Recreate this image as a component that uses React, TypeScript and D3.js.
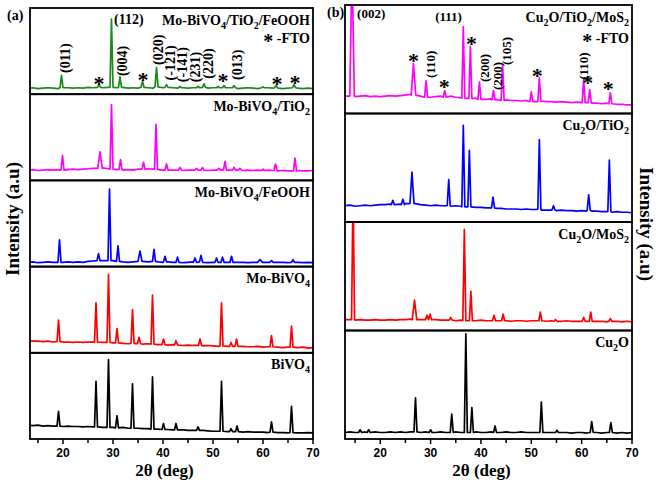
import * as d3 from 'd3';

// baseline samples at 13, 14, ... 70 deg (percent of sub-panel height)
const degGrid = d3.range(13, 71);

// ---------- panel (a) ----------
const feoohTiBase = [7, 7.5, 6.5, 7, 7.5, 7, 6.5, 7, 7.5, 7, 7.5, 7, 8, 7.5, 7, 7.5, 8, 7.5, 7.5, 8, 7, 7.5, 7, 8, 7.5, 7, 8, 7.5, 7, 7.5, 7, 7.5, 7, 7.5, 7, 7.5, 7, 7.5, 7, 7, 7.5, 7, 6.5, 7, 7.5, 7, 6.5, 7, 7.5, 7, 7, 6.5, 7, 7.5, 7, 6.5, 7, 6.5];
// [2theta, top, foot, halfWidth?]
const feoohTiPeaks = [[19.7, 22, 7.5], [27.2, 11.5, 8], [29.7, 87, 8], [31.4, 20, 8], [35.9, 15, 8], [38.7, 31, 8.5], [40.7, 11, 8], [43.4, 9, 7.5], [47, 9, 7.5], [48.2, 12, 8], [51, 9, 7.5], [52.2, 10, 7.5], [54.2, 10, 7.5], [60, 8.5, 7.5], [62.6, 10, 7.5], [66.2, 11, 7.5]];

const tiBase = [12, 12.5, 11.5, 12, 12.5, 12, 12.5, 12, 12.5, 13, 12.5, 13, 13.5, 14, 14, 14.5, 13.5, 13, 12.5, 12, 12.5, 12, 13, 13, 13.5, 13, 12.5, 12, 12.5, 12, 12, 11.5, 12, 12, 12.5, 12, 11.5, 12, 12, 12.5, 12, 12, 12, 11.5, 12, 11.5, 12, 11.5, 12, 11.5, 11, 11.5, 11, 11, 11.5, 11, 11, 11.5];
const tiPeaks = [[19.9, 29, 12], [27.4, 33, 14, 0.45], [29.7, 88, 13], [31.5, 24, 12.5], [36.1, 21, 13], [38.6, 65, 13], [40.7, 19, 12], [43.4, 15, 12], [46.7, 14, 12], [47.9, 15, 12], [51.2, 14, 12], [52.4, 22, 12], [54.2, 15, 12], [55.4, 14, 12], [60, 13, 11.5], [62.5, 19, 11.5], [66.4, 26, 11]];

const feoohBase = [5, 5.5, 4.5, 5, 5.5, 5, 4.5, 5, 5.5, 5, 5.5, 5, 6, 6.5, 7, 7, 7.5, 7, 6, 5.5, 5, 5.5, 6, 6, 5.5, 6, 5.5, 5, 5.5, 5, 5, 4.5, 5, 5.5, 5, 5, 4.5, 5, 5.5, 5, 5, 4.5, 5, 5, 4.5, 5, 5.5, 5, 5, 4.5, 5, 5, 4.5, 5, 5, 4.5, 5, 4.5];
const feoohPeaks = [[19.3, 31, 5], [27.1, 15, 7], [29.3, 90, 7], [31, 24, 6], [35.4, 18, 6, 0.4], [38.2, 20, 6], [40.4, 12, 5.5], [42.9, 11, 5], [46.4, 10, 5], [47.6, 13, 5.5], [50.7, 10, 5], [51.9, 11, 5], [53.7, 12, 5], [59.4, 8, 5, 0.5], [61.7, 7, 5], [66, 8, 5]];

const moBase = [14, 13.5, 13.5, 13, 13.5, 12.5, 13, 12.5, 12.5, 12, 12.5, 12, 12.5, 12.5, 12.5, 12, 11.5, 11.5, 11, 11, 10.5, 11, 10.5, 10, 10.5, 10, 9.5, 9.5, 9, 9.5, 9, 8.5, 9, 8.5, 8.5, 8, 8.5, 8, 7.5, 8, 7.5, 7.5, 7, 7.5, 7, 7, 7.5, 6.5, 7, 6.5, 6.5, 6, 6.5, 6, 6, 6.5, 5.5, 6];
const moPeaks = [[19.1, 38, 13], [26.6, 58, 12], [29.1, 91, 12], [30.8, 28, 11.5], [33.9, 50, 11], [35.2, 18, 10.5], [37.9, 67, 10], [40.1, 16, 9.5], [42.6, 14, 9], [47.4, 16, 8.5], [51.7, 58, 8], [53.6, 12, 7.5], [54.7, 16, 7.5], [61.7, 20, 7], [65.7, 31, 6.5]];

const bivBase = [16, 15.5, 16, 15, 15.5, 15, 15, 14.5, 15, 14.5, 14.5, 14, 14.5, 14, 14, 13.5, 14, 13.5, 13, 13.5, 12.5, 13, 12.5, 12, 12, 11.5, 11.5, 11, 11, 10.5, 10.5, 10.5, 10, 10, 9.5, 10, 9.5, 9, 9, 9, 8.5, 8.5, 8.5, 8, 8.5, 8, 8, 8, 7.5, 8, 7.5, 7.5, 7, 7.5, 7, 7, 7.5, 7];
const bivPeaks = [[19.1, 32, 15], [26.6, 67, 14], [29.1, 92, 13.5], [30.8, 27, 13], [33.9, 64, 12.5], [37.9, 72, 11.5], [40.1, 18, 11], [42.6, 18, 10.5], [47, 14, 10], [51.7, 67, 9], [53.6, 12, 8.5], [54.8, 15, 8.5], [61.7, 20, 8], [65.7, 38, 7.5]];

// hkl labels of top trace: [text, 2theta, value, rotated]
const hklA: [string, number, number, boolean][] = [
  ['(011)', 20.5, 24.6, true], ['(112)', 30.2, 82, false], ['(004)', 31.8, 21, true],
  ['(020)', 39.0, 34, true], ['(-121)', 41.4, 16, true], ['(-141)', 43.8, 14, true],
  ['(231)', 46.4, 14, true], ['(220)', 49, 18, true], ['(013)', 54.8, 16.5, true],
];
const starsA = [[27.2, 16.5], [36, 21], [52, 19], [62.8, 16.5], [66.4, 17.6]];

// ---------- panel (b) ----------
const cuTiMoBase = [16, 16.5, 15.5, 16, 16.5, 15.5, 16, 15.5, 16, 16.5, 16, 16.5, 17, 17.5, 17, 16, 15.5, 15, 15.5, 16, 16.5, 16, 15, 14.5, 14, 14.5, 14, 13.5, 13, 13.5, 13, 12.5, 12.5, 12, 12, 11.5, 12, 11.5, 11, 11.5, 11, 11, 10.5, 11, 10.5, 10, 10.5, 10, 10, 9.5, 9.5, 9, 9.5, 9, 8.5, 8.5, 8, 8];
const cuTiMoPeaks = [[14.4, 140, 16, 0.45], [26.6, 46, 17, 0.45], [29.1, 30, 15], [32.8, 21, 15], [36.5, 80, 14], [37.9, 62, 14], [39.7, 29, 13], [42.5, 21, 12.5], [44.3, 45, 12], [50, 20, 11], [51.6, 33, 11], [60.4, 31, 10], [61.6, 22, 10], [65.7, 19, 9]];

const cuTiBase = [15, 15.5, 14.5, 15, 15.5, 15, 15.5, 16, 16, 16.5, 16, 16.5, 17, 17.5, 17, 16, 15.5, 15, 15.5, 15, 15, 14.5, 15, 14.5, 14, 14, 13.5, 13.5, 13, 13, 12.5, 12.5, 12, 12, 12, 11.5, 12, 11.5, 11.5, 11, 11, 11, 10.5, 11, 10.5, 10.5, 10, 10.5, 10, 10, 10, 9.5, 9.5, 9, 9.5, 9, 9, 8.5];
const cuTiPeaks = [[22.5, 20, 16], [24.5, 21, 16], [26.3, 46, 17, 0.4], [33.6, 39, 15], [36.5, 89, 14], [37.7, 66, 14], [42.4, 23, 13], [51.6, 76, 12], [54.4, 15, 11], [61.4, 25, 11], [65.5, 57, 10]];

const cuMoBase = [10, 10, 9.5, 10, 9.5, 9.5, 10, 9.5, 9.5, 10, 9.5, 10, 10, 10.5, 10, 10, 10, 10, 10, 9.5, 9.5, 9.5, 9, 9.5, 9, 9, 9, 9.5, 9, 9, 9, 9, 9, 8.5, 9, 9, 8.5, 9, 9, 9, 8.5, 9, 8.5, 8.5, 9, 8.5, 8.5, 8.5, 8.5, 8.5, 8.5, 8.5, 8, 8.5, 8.5, 8, 8.5, 8];
const cuMoPeaks = [[14.6, 130, 10], [26.8, 28, 10, 0.45], [29.3, 14, 10], [29.9, 15, 10], [34, 12, 9.5], [36.7, 93, 9], [38, 36, 9], [42.6, 14, 9], [44.4, 15, 9], [51.8, 17, 9], [54.8, 10, 8.5], [60.4, 12, 8.5], [61.8, 17, 8.5], [65.7, 11, 8.5]];

const cuBase = [6, 6.5, 6, 6, 6.5, 6, 6.5, 6, 6, 6.5, 6, 6.5, 6, 6.5, 6.5, 6, 6.5, 6, 6, 6.5, 6, 6, 6.5, 6, 6, 6, 6.5, 6, 6, 6.5, 6, 6, 6.5, 6, 6, 6.5, 6, 6, 6, 6.5, 6, 6, 6.5, 6, 6, 5.5, 6, 6, 5.5, 6, 6, 5.5, 6, 6, 5.5, 6, 5.5, 6];
const cuPeaks = [[16, 8.5, 6], [17.7, 8.5, 6], [27, 38, 6.5], [30, 8.5, 6], [34.2, 23, 6], [37, 97, 6], [38.2, 29, 6], [42.8, 12, 6], [52, 34, 6], [55.1, 8, 6], [62, 16, 6], [65.8, 15, 6]];

const hklB: [string, number, number, boolean][] = [
  ['(002)', 15.4, 88, false], ['(111)', 30.9, 85, false], ['(110)', 29.9, 32.7, true],
  ['(200)', 40.6, 29, true], ['(200)', 43.2, 21.7, true], ['(105)', 45, 44.7, true],
  ['(110)', 60.3, 31, true],
];
const starsB = [[26.6, 52], [32.7, 28], [38.1, 67], [51.2, 38], [61.2, 31], [65.3, 26]];

const majorTicks = [20, 30, 40, 50, 60, 70];
const minorTicks = [15, 25, 35, 45, 55, 65];

const HW = 0.3;
const SERIF = '"Liberation Serif", "Times New Roman", serif';
const SANS = '"Liberation Sans", Arial, sans-serif';

function buildPattern(base: number[], peaks: number[][]) {
  const pts: number[][] = [];
  degGrid.forEach((d, i) => {
    if (!peaks.some((p) => Math.abs(d - p[0]) <= (p[3] ?? HW) + 0.05)) pts.push([d, base[i]]);
  });
  peaks.forEach(([pos, top, foot, hw = HW]) => {
    pts.push([pos - hw, foot], [pos, top], [pos + hw, foot]);
  });
  return pts.sort((a, b) => a[0] - b[0]);
}

function SubText({ s, sub }: { s: string; sub: number }) {
  const parts = s.split(/_(\d)/);
  return (
    <>
      {parts.map((p, i) =>
        i % 2 ? (
          <tspan key={i} fontSize={sub} dy={4}>{p}</tspan>
        ) : (
          <tspan key={i} dy={i ? -4 : 0}>{p}</tspan>
        )
      )}
    </>
  );
}

interface Series { label: string; color: string; base: number[]; peaks: number[][] }

interface PanelProps {
  id: string;
  left: number; right: number; top: number; bottom: number;
  domain: [number, number];
  series: Series[];
  hkl: [string, number, number, boolean][];
  stars: number[][];
  tag: string; tagX: number;
  hklSize: number;
  ftoY: number;
}

const Panel = ({ id, left, right, top, bottom, domain, series, hkl, stars, tag, tagX, hklSize, ftoY }: PanelProps) => {
  const x = d3.scaleLinear().domain(domain).range([left, right]);
  const bands = d3.scaleBand<number>().domain(d3.range(series.length)).range([top, bottom]);
  const h = bands.bandwidth();
  const ys = series.map((_, i) => d3.scaleLinear().domain([0, 100]).range([bands(i)! + h, bands(i)!]));
  const line = (y: d3.ScaleLinear<number, number>) =>
    d3.line<number[]>().x((d) => x(d[0])).y((d) => y(d[1]));
  const y0 = ys[0];

  return (
    <g>
      <defs>
        {series.map((_, i) => (
          <clipPath key={i} id={`${id}-clip-${i}`}>
            <rect x={left} y={bands(i)} width={right - left} height={h} />
          </clipPath>
        ))}
      </defs>
      {series.map((s, i) => (
        <g key={i}>
          <path
            d={line(ys[i])(buildPattern(s.base, s.peaks)) || ''}
            fill="none"
            stroke={s.color}
            strokeWidth={1.7}
            strokeLinejoin="round"
            clipPath={`url(#${id}-clip-${i})`}
          />
          <text
            x={right - 3}
            y={bands(i)! + 16.5}
            textAnchor="end"
            fontFamily={SERIF}
            fontWeight="bold"
            fontSize={14}
          >
            <SubText s={s.label} sub={10} />
          </text>
          <rect x={left} y={bands(i)} width={right - left} height={h} fill="none" stroke="#000" strokeWidth={1.8} />
        </g>
      ))}
      {/* FTO legend */}
      <text x={right - 3} y={top + ftoY} textAnchor="end" fontFamily={SERIF} fontWeight="bold" fontSize={14}>
        <tspan fontSize={20} dy={5}>*</tspan>
        <tspan dy={-5}> -FTO</tspan>
      </text>
      {hkl.map(([t, d, v, rot], i) =>
        rot ? (
          <text
            key={i}
            transform={`translate(${x(d)},${y0(v)}) rotate(-90)`}
            dy="0.35em"
            fontFamily={SERIF}
            fontWeight="bold"
            fontSize={hklSize}
          >
            {t}
          </text>
        ) : (
          <text key={i} x={x(d)} y={y0(v)} fontFamily={SERIF} fontWeight="bold" fontSize={hklSize}>
            {t}
          </text>
        )
      )}
      {stars.map(([d, v], i) => (
        <text key={i} x={x(d)} y={y0(v)} dy="0.48em" textAnchor="middle" fontFamily={SERIF} fontWeight="bold" fontSize={22}>
          *
        </text>
      ))}
      {/* x axis */}
      {majorTicks.map((t) => (
        <g key={t}>
          <line x1={x(t)} x2={x(t)} y1={bottom} y2={bottom + 5} stroke="#000" strokeWidth={1.5} />
          <text x={x(t)} y={bottom + 18} textAnchor="middle" fontFamily={SANS} fontWeight="bold" fontSize={12}>
            {t}
          </text>
        </g>
      ))}
      {minorTicks.map((t) => (
        <line key={t} x1={x(t)} x2={x(t)} y1={bottom} y2={bottom + 4} stroke="#000" strokeWidth={1.5} />
      ))}
      <text x={(left + right) / 2 - 7} y={bottom + 37} textAnchor="middle" fontFamily={SERIF} fontWeight="bold" fontSize={17}>
        2θ (deg)
      </text>
      <text x={tagX} y={top + 12} fontFamily={SERIF} fontWeight="bold" fontSize={14}>
        {tag}
      </text>
    </g>
  );
};

const seriesA: Series[] = [
  { label: 'Mo-BiVO_4/TiO_2/FeOOH', color: '#1a8a1a', base: feoohTiBase, peaks: feoohTiPeaks },
  { label: 'Mo-BiVO_4/TiO_2', color: '#ff00ff', base: tiBase, peaks: tiPeaks },
  { label: 'Mo-BiVO_4/FeOOH', color: '#0000ff', base: feoohBase, peaks: feoohPeaks },
  { label: 'Mo-BiVO_4', color: '#ff0000', base: moBase, peaks: moPeaks },
  { label: 'BiVO_4', color: '#000000', base: bivBase, peaks: bivPeaks },
];

const seriesB: Series[] = [
  { label: 'Cu_2O/TiO_2/MoS_2', color: '#ff00ff', base: cuTiMoBase, peaks: cuTiMoPeaks },
  { label: 'Cu_2O/TiO_2', color: '#0000ff', base: cuTiBase, peaks: cuTiPeaks },
  { label: 'Cu_2O/MoS_2', color: '#ff0000', base: cuMoBase, peaks: cuMoPeaks },
  { label: 'Cu_2O', color: '#000000', base: cuBase, peaks: cuPeaks },
];

const App = () => (
  <svg width={661} height={487} style={{ position: 'absolute', left: 0, top: 0, background: '#fff' }}>
    <Panel
      id="a" left={30} right={313} top={8} bottom={439} domain={[13.4, 70]}
      series={seriesA} hkl={hklA} stars={starsA} tag="(a)" tagX={7} hklSize={14} ftoY={35}
    />
    <Panel
      id="b" left={345} right={632} top={5} bottom={439} domain={[13, 70]}
      series={seriesB} hkl={hklB} stars={starsB} tag="(b)" tagX={327} hklSize={13} ftoY={38}
    />
    <text transform="translate(12,219) rotate(-90)" textAnchor="middle" dy="0.35em" fontFamily={SERIF} fontWeight="bold" fontSize={19}>
      Intensity (a.u)
    </text>
    <text transform="translate(647,224) rotate(90)" textAnchor="middle" dy="0.35em" fontFamily={SERIF} fontWeight="bold" fontSize={19}>
      Intensity (a.u)
    </text>
  </svg>
);

export default App;
